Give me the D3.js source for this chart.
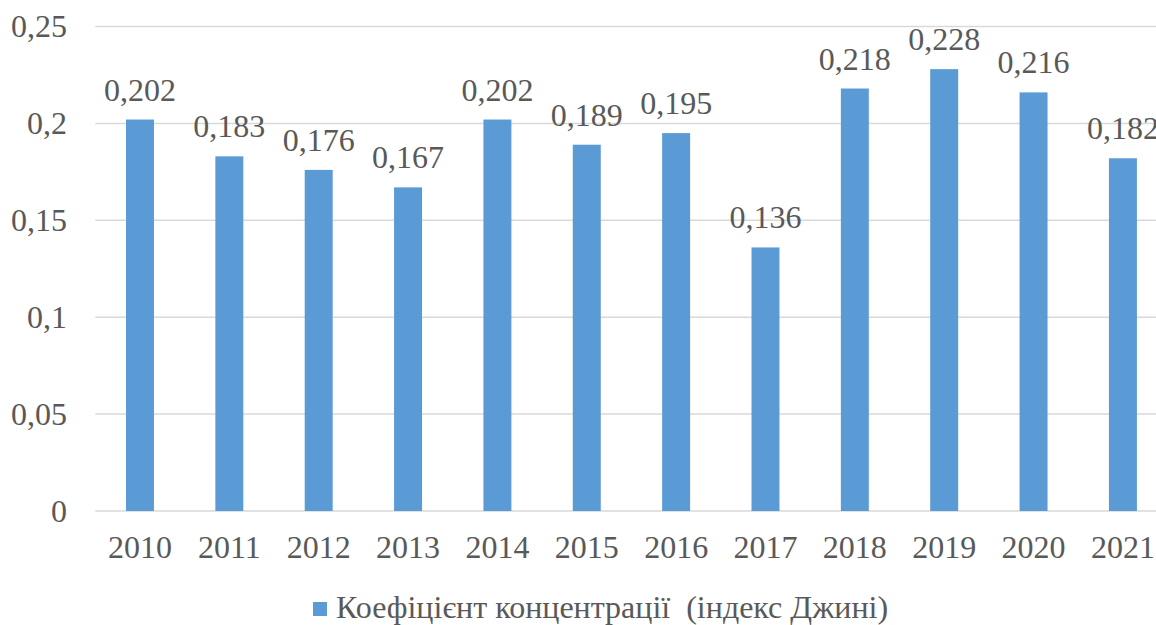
<!DOCTYPE html>
<html><head><meta charset="utf-8">
<script src="https://cdn.jsdelivr.net/npm/d3@7/dist/d3.min.js"></script>
<style>html,body{margin:0;padding:0;background:#fff;overflow:hidden}</style>
</head><body>
<svg id="chart" width="1156" height="625" font-family="Liberation Serif"></svg>
<script>
const categories = ["2010","2011","2012","2013","2014","2015","2016","2017","2018","2019","2020","2021"];
const values = [0.202,0.183,0.176,0.167,0.202,0.189,0.195,0.136,0.218,0.228,0.216,0.182];
const yTicks = [0,0.05,0.1,0.15,0.2,0.25];
const yTickLabels = ["0","0,05","0,1","0,15","0,2","0,25"];
const seriesName = "Коефіцієнт концентрації  (індекс Джині)";

const svg = d3.select("#chart");
const font = "Liberation Serif";
const textColor = "#595959";
const barColor = "#5B9BD5";

const x = d3.scaleBand().domain(categories).range([95.3, 1167.6]).paddingInner(0.687).paddingOuter(0.3435);
const y = d3.scaleLinear().domain([0,0.25]).range([511,26.5]);

svg.append("g").selectAll("line").data(yTicks).join("line")
  .attr("x1",95.3).attr("x2",1156)
  .attr("y1",d=>y(d)).attr("y2",d=>y(d))
  .attr("stroke","#D9D9D9").attr("stroke-width",1.5);

const yAxis = d3.axisLeft(y).tickValues(yTicks).tickSize(0).tickPadding(0)
  .tickFormat((d,i)=>yTickLabels[i]);
const gy = svg.append("g").attr("transform","translate(67,0)").call(yAxis);
gy.attr("font-family",font).attr("font-size",32);
gy.select(".domain").remove();
gy.selectAll("text").attr("font-family",font).attr("font-size",32).attr("fill",textColor).attr("dy","0.32em");

svg.append("g").selectAll("rect").data(values).join("rect")
  .attr("x",(d,i)=>x(categories[i])).attr("width",x.bandwidth())
  .attr("y",d=>y(d)).attr("height",d=>y(0)-y(d))
  .attr("fill",barColor);

svg.append("g").attr("font-family",font).selectAll("text").data(values).join("text")
  .attr("x",(d,i)=>x(categories[i])+x.bandwidth()/2)
  .attr("y",d=>y(d)-19)
  .attr("text-anchor","middle")
  .attr("font-family",font).attr("font-size",32).attr("fill",textColor)
  .text(d=>String(d).replace(".",","));

const xAxis = d3.axisBottom(x).tickSize(0).tickPadding(0);
const gx = svg.append("g").call(xAxis);
gx.attr("font-family",font).attr("font-size",32);
gx.select(".domain").remove();
gx.selectAll("text").attr("font-family",font).attr("font-size",32).attr("fill",textColor)
  .attr("y",558).attr("dy",0);

const lg = svg.append("g").attr("font-family",font);
lg.append("rect").attr("x",313).attr("y",602).attr("width",14).attr("height",14).attr("fill",barColor);
lg.append("text").attr("x",336).attr("y",618)
  .attr("font-family",font).attr("font-size",32).attr("fill",textColor)
  .style("white-space","pre")
  .text(seriesName);
</script>
</body></html>
